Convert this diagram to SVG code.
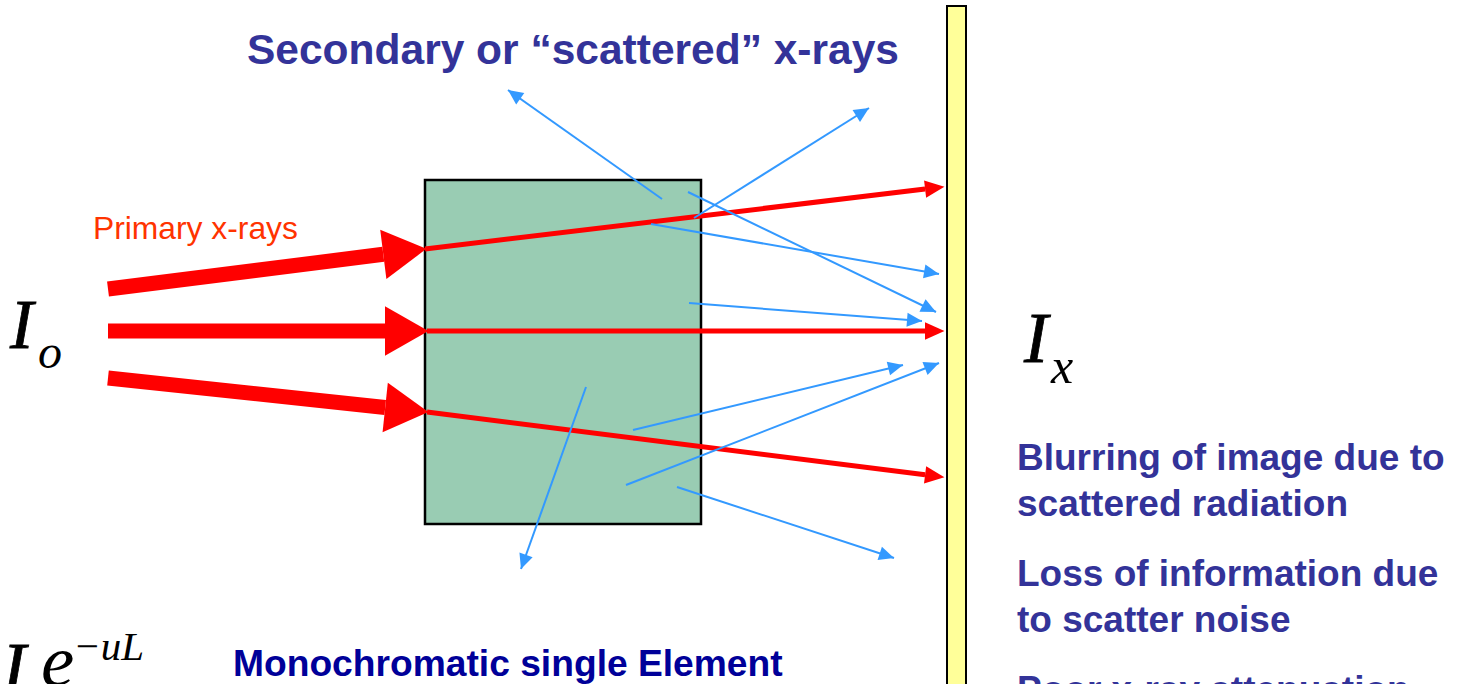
<svg xmlns="http://www.w3.org/2000/svg" width="1457" height="684" viewBox="0 0 1457 684">
<style>
.title{font-family:"Liberation Sans",Arial,sans-serif;font-weight:bold;fill:#333399}
.note{font-family:"Liberation Sans",Arial,sans-serif;font-weight:bold;font-size:37px;fill:#333399}
.math{font-family:"Liberation Serif","Times New Roman",serif;font-style:italic;fill:#000}
.big{stroke:#000;stroke-width:0.8}
.thick{stroke:#FF0000;stroke-width:15;fill:none}
.thin{stroke:#FF0000;stroke-width:5;fill:none}
.scat{stroke:#3399FF;stroke-width:2;fill:none}
</style>
<defs>
<marker id="hThick" markerUnits="strokeWidth" markerWidth="3" markerHeight="4" viewBox="0 -1.7 2.9 3.4" refX="0" refY="0" orient="auto" overflow="visible">
<path d="M0,-1.6 L2.8,0 L0,1.6 z" fill="#FF0000"/>
</marker>
<marker id="hThin" markerUnits="strokeWidth" markerWidth="4" markerHeight="4" viewBox="0 -1.7 3.7 3.4" refX="0" refY="0" orient="auto" overflow="visible">
<path d="M0,-1.6 L3.6,0 L0,1.6 z" fill="#FF0000"/>
</marker>
<marker id="hBlue" markerUnits="strokeWidth" markerWidth="8" markerHeight="8" viewBox="0 -4 8 8" refX="7.5" refY="0" orient="auto" overflow="visible">
<path d="M0,-3.5 L7.5,0 L0,3.5 z" fill="#3399FF"/>
</marker>
</defs>
<rect width="1457" height="684" fill="#FFFFFF"/>
<g id="detector">
<rect x="947" y="6" width="19" height="700" fill="#FFFF99" stroke="#000" stroke-width="2"/>
</g>
<g id="object">
<rect x="425" y="180" width="276" height="344" fill="#99CCB3" stroke="#000" stroke-width="2.5"/>
</g>
<g id="connectors">
<line class="thick" x1="108" y1="289" x2="383.3" y2="254.3" marker-end="url(#hThick)"/>
<line class="thick" x1="108" y1="331" x2="385" y2="331" marker-end="url(#hThick)"/>
<line class="thick" x1="108" y1="378" x2="385.2" y2="407.5" marker-end="url(#hThick)"/>
<line class="thin" x1="425" y1="249" x2="925.1" y2="189.1" marker-end="url(#hThin)"/>
<line class="thin" x1="427" y1="331" x2="925" y2="331" marker-end="url(#hThin)"/>
<line class="thin" x1="427" y1="412" x2="925.1" y2="474.8" marker-end="url(#hThin)"/>
<line class="scat" x1="662" y1="199" x2="508" y2="90" marker-end="url(#hBlue)"/>
<line class="scat" x1="694" y1="218" x2="869" y2="108" marker-end="url(#hBlue)"/>
<line class="scat" x1="688" y1="192" x2="936" y2="312" marker-end="url(#hBlue)"/>
<line class="scat" x1="651" y1="224" x2="939" y2="274" marker-end="url(#hBlue)"/>
<line class="scat" x1="689" y1="303" x2="922" y2="321" marker-end="url(#hBlue)"/>
<line class="scat" x1="586" y1="387" x2="521" y2="569" marker-end="url(#hBlue)"/>
<line class="scat" x1="633" y1="430" x2="903" y2="365" marker-end="url(#hBlue)"/>
<line class="scat" x1="626" y1="485" x2="939" y2="363" marker-end="url(#hBlue)"/>
<line class="scat" x1="677" y1="487" x2="894" y2="558" marker-end="url(#hBlue)"/>
</g>
<g id="title">
<text class="title" x="247" y="64" font-size="42.5">Secondary or “scattered” x-rays</text>
</g>
<g id="primary-label">
<text x="93" y="239" font-family="Liberation Sans, Arial, sans-serif" font-size="31.8" fill="#FF3300">Primary x-rays</text>
</g>
<g id="Io">
<text class="math big" x="10" y="348" font-size="70">I</text>
<text class="math" x="38" y="368" font-size="48">o</text>
</g>
<g id="Ix">
<text class="math big" x="1024" y="362" font-size="72">I</text>
<text class="math" x="1051" y="383" font-size="50">x</text>
</g>
<g id="notes">
<text class="note" x="1017" y="470">Blurring of image due to</text>
<text class="note" x="1017" y="516">scattered radiation</text>
<text class="note" x="1017" y="586">Loss of information due</text>
<text class="note" x="1017" y="632">to scatter noise</text>
<text class="note" x="1017" y="702">Poor x-ray attenuation</text>
</g>
<g id="mono-label">
<text x="233" y="676" font-family="Liberation Sans, Arial, sans-serif" font-weight="bold" font-size="37.2" fill="#000099">Monochromatic single Element</text>
</g>
<g id="formula">
<text class="math big" x="2" y="692" font-size="72">I</text>
<text class="math" x="41" y="686" font-size="75">e</text>
<text class="math" x="73" y="660" font-size="41">−uL</text>
</g>
</svg>
